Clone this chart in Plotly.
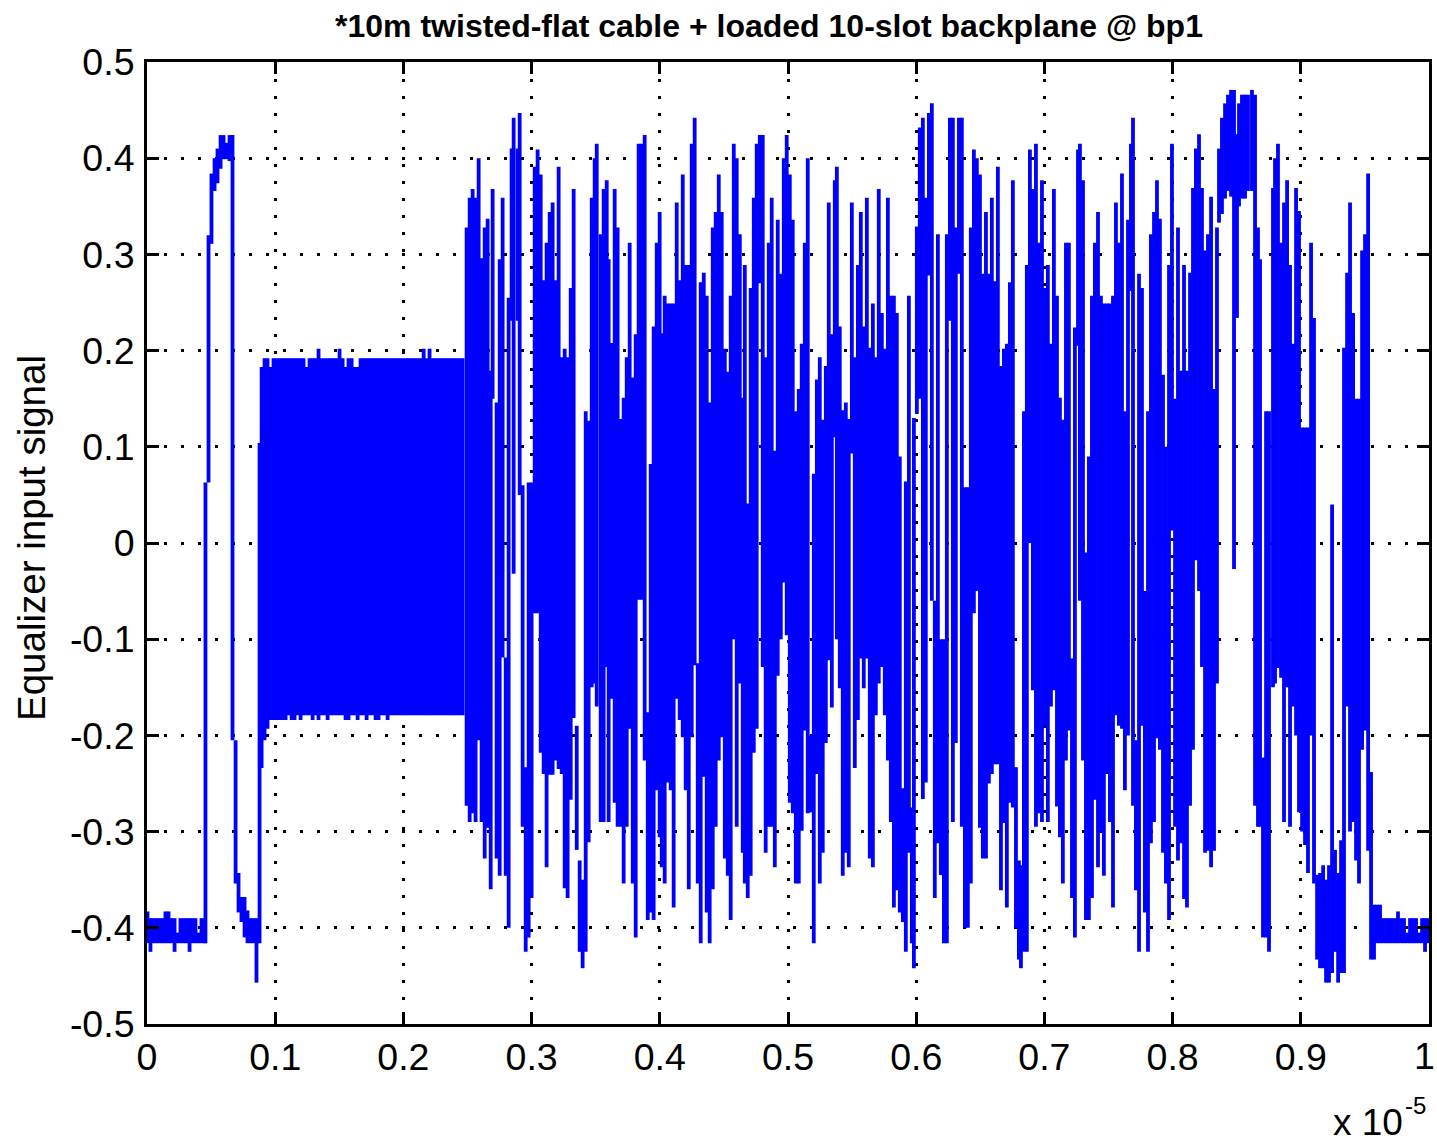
import plotly.graph_objects as go

# Time axis is in units of 1e-5 s. Each column of the trace is a stroke from upper to lower level.
idle_time = [.0004,.0027,.0051,.0074,.0098,.0121,.0144,.0168,.0191,.0215,
             .0238,.0261,.0285,.0308,.0332,.0355,.0378,.0402,.0425,.0449]
idle_upper = [-.383,-.390,-.390,-.390,-.390,-.390,-.383,-.383,-.390,-.390,
              -.405,-.390,-.390,-.390,-.390,-.390,-.390,-.405,-.390,-.390]
idle_lower = [-.416,-.425,-.416,-.416,-.416,-.416,-.416,-.416,-.416,-.425,
              -.416,-.416,-.416,-.416,-.425,-.416,-.416,-.416,-.416,-.416]

pulse_time = [.0456,.0480,.0503,.0527,.0550,.0574,.0597,.0620,.0644,.0667,
              .0691,.0714,.0737,.0761,.0784,.0808,.0831,.0854,.0878]
pulse_upper = [.063,.320,.384,.400,.410,.424,.424,.416,.424,.424,
               -.205,-.343,-.368,-.368,-.382,-.390,-.390,-.390,.104]
pulse_lower = [-.416,.063,.311,.366,.374,.389,.399,.399,.397,-.205,
               -.354,-.384,-.394,-.410,-.416,-.416,-.416,-.457,-.416]

idle_tone_time = [.0894,.0917,.0940,.0964,.0987,.1011,.1034,.1057,.1081,.1104,
                  .1128,.1151,.1175,.1198,.1221,.1245,.1268,.1292,.1315,.1338,
                  .1362,.1385,.1409,.1432,.1455,.1479,.1502,.1526,.1549,.1572,
                  .1596,.1619,.1643,.1666,.1689,.1713,.1736,.1760,.1783,.1806,
                  .1830,.1853,.1877,.1900,.1924,.1947,.1970,.1994,.2017,.2041,
                  .2064,.2087,.2111,.2134,.2158,.2181,.2204,.2228,.2251,.2275,
                  .2298,.2321,.2345,.2368,.2392,.2415,.2438,.2462]
idle_tone_upper = [.183,.192,.192,.183,.192,.192,.192,.192,.192,.192,
                   .192,.192,.192,.192,.192,.183,.192,.192,.192,.202,
                   .192,.192,.192,.192,.192,.192,.202,.192,.183,.192,
                   .192,.183,.183,.192,.192,.192,.192,.192,.192,.192,
                   .192,.192,.192,.192,.192,.192,.192,.192,.192,.192,
                   .192,.192,.192,.192,.202,.192,.202,.192,.192,.192,
                   .192,.192,.192,.192,.192,.192,.192,.192]
idle_tone_lower = [-.234,-.205,-.193,-.184,-.184,-.184,-.184,-.184,-.184,-.179,
                   -.184,-.184,-.179,-.184,-.179,-.179,-.179,-.184,-.179,-.184,
                   -.179,-.179,-.184,-.179,-.179,-.179,-.179,-.179,-.184,-.184,
                   -.179,-.179,-.184,-.179,-.179,-.184,-.179,-.179,-.184,-.184,
                   -.179,-.179,-.184,-.179,-.179,-.179,-.179,-.179,-.179,-.179,
                   -.179,-.179,-.179,-.179,-.179,-.179,-.179,-.179,-.179,-.179,
                   -.179,-.179,-.179,-.179,-.179,-.179,-.179,-.179]

burst_a_time = [.2493,.2517,.2540,.2563,.2587,.2610,.2634,.2657,.2681,.2696,
                .2727,.2751,.2774,.2798,.2821,.2844,.2860,.2891,.2907,.2930,
                .2954,.2977,.3000,.3024,.3047,.3071,.3094,.3117,.3141,.3164,
                .3188,.3211,.3235,.3258,.3281,.3305,.3328,.3352,.3375,.3398,
                .3422,.3445,.3469,.3492,.3508,.3539,.3562,.3586,.3601,.3625,
                .3648,.3671,.3695,.3718,.3742,.3765,.3789,.3812,.3835,.3859,
                .3882,.3906,.3929,.3952,.3976,.3999,.4015,.4038,.4062,.4085,
                .4108,.4132,.4155,.4179,.4202,.4226,.4249,.4272,.4296,.4319,
                .4343,.4366,.4389,.4413,.4436,.4460,.4483,.4507,.4530,.4553,
                .4577,.4600,.4624,.4647,.4663,.4686,.4709,.4733,.4756,.4780,
                .4803,.4826,.4850,.4873,.4897,.4920,.4944,.4967,.4990,.5014,
                .5037,.5061,.5084,.5107,.5131,.5154,.5178,.5201,.5225,.5248]
burst_a_upper = [.328,.359,.368,.359,.400,.296,.328,.337,.179,.368,
                 .146,.295,.359,-.119,.255,.410,.442,.410,.447,.060,
                 -.233,.063,.063,.391,.409,.383,.273,.312,.344,.354,
                 .273,.391,.193,.202,.193,.265,.368,-.190,-.330,-.350,
                 .137,.127,.359,.400,.415,.321,.368,.377,.295,.208,
                 .368,.328,.129,.151,.193,.312,.172,.217,.415,.415,
                 .424,-.176,.082,.225,.312,.344,.218,.257,.249,.249,
                 .249,.354,.273,.383,.289,.289,.415,.442,-.125,.271,
                 .281,.257,.146,.328,.344,.383,.344,.202,.178,.257,
                 .415,.400,.321,.151,.289,.041,.265,.359,.415,.424,
                 .424,.193,.312,.359,.096,.336,.280,.400,.424,.383,
                 .336,.137,.160,.207,.312,.400,-.200,.072,.170,.193]
burst_a_lower = [-.273,-.290,-.281,-.290,-.205,-.290,-.328,-.296,-.360,.150,
                 -.328,-.346,-.119,-.346,-.400,.231,-.032,.231,.050,-.295,
                 -.425,-.410,-.369,-.073,-.073,-.218,-.240,-.337,-.241,-.241,
                 -.226,-.235,-.240,-.359,-.369,-.267,-.182,-.319,-.425,-.442,
                 -.425,-.311,-.150,-.146,-.170,-.290,-.290,-.129,-.290,-.162,
                 -.270,-.295,-.295,-.354,-.295,-.193,-.354,-.410,-.059,-.059,
                 -.226,-.392,-.384,-.392,-.257,-.306,-.337,-.354,-.249,-.257,
                 -.379,-.162,-.184,-.202,-.257,-.360,-.202,-.127,-.354,-.416,
                 -.243,-.384,-.416,-.360,-.295,-.226,-.202,-.328,-.346,-.392,
                 -.100,-.295,-.146,-.322,-.354,-.369,-.346,-.218,-.193,.270,
                 -.129,-.322,-.295,-.295,-.337,-.138,-.100,-.041,-.096,-.270,
                 -.281,-.354,-.354,-.299,-.195,-.281,-.280,-.416,-.240,-.354]

burst_b_time = [.5271,.5295,.5318,.5342,.5365,.5381,.5404,.5427,.5451,.5474,
                .5498,.5521,.5545,.5568,.5591,.5615,.5638,.5662,.5685,.5708,
                .5732,.5755,.5779,.5802,.5826,.5849,.5872,.5896,.5919,.5943,
                .5966,.5982,.6005,.6028,.6052,.6075,.6099,.6122,.6145,.6169,
                .6192,.6216,.6239,.6263,.6286,.6309,.6333,.6356,.6380,.6403,
                .6426,.6450,.6473,.6497,.6520,.6544,.6567,.6590,.6614,.6637,
                .6661,.6684,.6707,.6731,.6754,.6778,.6801,.6817,.6840,.6863,
                .6887,.6910,.6934,.6957,.6981,.7004,.7027,.7051,.7074,.7098,
                .7121,.7144,.7168,.7191,.7215,.7238,.7262,.7277,.7301,.7324,
                .7347,.7371,.7394,.7418,.7441,.7464,.7488,.7511,.7535,.7558,
                .7581,.7605,.7628,.7652,.7675,.7691,.7714,.7738,.7761,.7784]
burst_b_upper = [.128,.184,.354,.217,.377,.391,.225,.138,.146,.129,
                 .354,.193,.289,.344,.225,.359,.203,.249,.193,.368,
                 .239,.202,.359,.257,.257,.239,.090,-.255,.064,.257,
                 -.275,.130,.329,.432,.442,.359,.447,.457,-.060,.321,
                 -.100,-.100,.321,.442,.442,.328,.442,.442,.058,.058,
                 .328,.409,.400,.383,.280,.344,.280,.359,.272,.391,
                 .184,.202,.207,.271,.377,-.233,-.330,-.335,.137,.289,
                 .409,.368,.415,.312,.377,.265,.289,.207,.368,.257,
                 .151,.128,.312,.312,-.120,.224,.409,.415,.377,-.010,
                 .090,.257,.312,.344,.257,.249,.249,.249,.257,.354,
                 .312,.384,.137,.336,.415,.442,-.205,.280,.265,-.050]
burst_b_lower = [-.322,-.208,-.122,-.171,.110,-.100,-.151,-.346,-.322,-.337,
                 .093,-.234,-.184,-.120,-.151,-.120,-.328,-.337,-.179,-.146,
                 -.129,-.179,-.226,-.290,-.379,-.361,-.384,-.394,-.425,-.322,
                 -.416,-.442,.134,.150,-.266,-.249,.278,-.060,-.369,-.312,
                 -.345,-.416,-.416,.231,-.290,-.208,.280,-.295,-.400,-.400,
                 -.354,-.073,-.050,-.296,-.328,-.328,-.250,-.240,-.230,-.230,
                 -.361,-.291,-.379,-.270,-.275,-.400,-.433,-.442,-.425,-.425,
                 .000,-.153,-.295,-.281,-.290,-.190,-.290,-.170,-.153,-.274,
                 -.306,-.354,-.226,-.195,-.369,-.410,.205,-.060,-.226,-.392,
                 -.392,-.369,-.267,-.337,-.300,-.346,-.240,-.290,-.379,-.179,
                 -.190,-.193,-.257,-.200,.262,-.273,-.361,-.425,-.190,-.384]

burst_c_time = [.7808,.7831,.7855,.7878,.7901,.7925,.7948,.7972,.7995,.8019,
                .8042,.8065,.8089,.8112,.8136,.8159,.8182,.8206,.8229,.8253,
                .8276,.8300,.8323,.8346,.8362,.8385,.8409,.8432,.8456,.8479,
                .8502,.8518,.8541,.8565,.8588,.8619,.8643,.8666,.8682,.8705,
                .8729,.8752,.8783,.8799,.8822,.8846,.8869,.8893,.8916,.8939,
                .8963,.8986,.9010,.9033,.9056,.9080,.9103,.9127,.9150,.9174,
                .9197,.9220,.9244,.9267,.9291,.9314,.9337,.9361,.9384,.9408,
                .9431,.9454,.9478,.9501,.9525,.9548,.9571]
burst_c_upper = [.137,.321,.344,.377,.337,.175,.100,.289,.415,.150,
                 .328,.179,.289,.179,.281,.369,.410,.425,.369,.304,
                 .321,.360,.160,.328,.410,.442,.457,.466,.471,.471,
                 .425,.457,.466,.466,.466,.471,.466,.328,.295,-.223,
                 .137,.137,.369,.400,.415,.312,.354,.377,.289,.207,
                 .369,.345,.120,.120,.120,.312,.234,-.345,-.343,-.335,
                 -.350,-.335,.040,-.319,-.343,-.309,.203,.281,.354,.239,
                 .150,.150,.304,.321,.384,-.238,-.376]
burst_c_lower = [-.425,-.312,-.290,-.203,-.215,-.322,-.354,-.392,.013,-.295,
                 -.330,-.312,-.370,-.379,-.273,-.215,-.018,-.050,-.129,-.322,
                 -.320,-.337,-.320,-.146,.333,.342,.358,.366,.360,-.027,
                 .234,.350,.358,.358,.366,.366,-.273,-.295,-.295,-.410,
                 -.410,-.425,-.150,-.146,-.130,-.140,-.290,-.150,-.295,-.170,
                 -.200,-.280,-.300,-.314,-.343,-.200,-.354,-.433,-.442,-.442,
                 -.457,-.457,-.447,-.425,-.457,-.447,-.447,-.170,-.300,-.290,
                 -.330,-.354,-.215,-.195,-.320,-.433,-.433]

tail_time = [.9594,.9618,.9641,.9665,.9688,.9711,.9735,.9758,.9782,.9805,
             .9829,.9852,.9875,.9899,.9922,.9946,.9969,.9992]
tail_upper = [-.376,-.376,-.390,-.390,-.390,-.390,-.390,-.383,-.390,-.390,
              -.405,-.390,-.390,-.390,-.405,-.390,-.390,-.390]
tail_lower = [-.416,-.416,-.416,-.416,-.416,-.416,-.416,-.416,-.416,-.416,
              -.416,-.416,-.416,-.416,-.416,-.416,-.425,-.416]

time_ticks = [0, .1, .2, .3, .4, .5, .6, .7, .8, .9, 1]
time_labels = ["0", "0.1", "0.2", "0.3", "0.4", "0.5", "0.6", "0.7", "0.8", "0.9", "1"]
signal_ticks = [.5, .4, .3, .2, .1, 0, -.1, -.2, -.3, -.4, -.5]
signal_labels = ["0.5", "0.4", "0.3", "0.2", "0.1", "0", "-0.1", "-0.2", "-0.3", "-0.4", "-0.5"]

title_text = "*10m twisted-flat cable + loaded 10-slot backplane @ bp1"
ylabel_text = "Equalizer input signal"

sections = [
    (idle_time, idle_upper, idle_lower),
    (pulse_time, pulse_upper, pulse_lower),
    (idle_tone_time, idle_tone_upper, idle_tone_lower),
    (burst_a_time, burst_a_upper, burst_a_lower),
    (burst_b_time, burst_b_upper, burst_b_lower),
    (burst_c_time, burst_c_upper, burst_c_lower),
    (tail_time, tail_upper, tail_lower),
]

trace_x, trace_y = [], []
for t, hi, lo in sections:
    assert len(t) == len(hi) == len(lo), (len(t), len(hi), len(lo))
    for tv, h, l in zip(t, hi, lo):
        trace_x += [tv, tv, None]
        trace_y += [h, l, None]

FONT = "Liberation Sans"
fig = go.Figure(go.Scatter(x=trace_x, y=trace_y, mode="lines", connectgaps=False,
                           line=dict(color="#0000ff", width=3.8, simplify=False),
                           hoverinfo="skip", showlegend=False))

L, R, T, B = 147, 1429, 62, 1024
axis_common = dict(
    showline=True, linecolor="black", linewidth=3, mirror="allticks",
    ticks="inside", ticklen=12, tickwidth=3, tickcolor="black",
    showgrid=True, gridcolor="black", gridwidth=3, griddash="3px,14px",
    zeroline=False, tickfont=dict(family=FONT, size=37.5, color="black"),
)
fig.update_xaxes(range=[0, 1], tickvals=time_ticks, ticktext=time_labels[:-1] + [""],
                 tickangle=0, ticklabelstandoff=-2, **axis_common)
fig.update_yaxes(range=[-.5, .5], tickvals=signal_ticks, ticktext=signal_labels,
                 ticklabelstandoff=2, **axis_common)
W, H = R - L, B - T
fig.update_layout(
    width=1437, height=1139, autosize=False,
    margin=dict(l=L, r=1437 - R, t=T, b=1139 - B, autoexpand=False),
    paper_bgcolor="white", plot_bgcolor="white",
    title=dict(text=title_text, font=dict(family=FONT, size=32, color="black", weight="bold"),
               x=769/1437, xref="container", xanchor="center",
               y=1-26/1139, yref="container", yanchor="middle"),
    annotations=[
        dict(text=ylabel_text, textangle=-90, x=(31 - L)/W, xref="paper", xanchor="center",
             y=(B - 538)/H, yref="paper", yanchor="middle", showarrow=False,
             font=dict(family=FONT, size=38.5, color="black")),
        dict(text=time_labels[-1], x=(1437 - L)/W, xref="paper", xanchor="right",
             y=(B - 1056)/H, yref="paper", yanchor="middle", showarrow=False,
             font=dict(family=FONT, size=37.5, color="black")),
        dict(text="x 10", x=(1405 - L)/W, xref="paper", xanchor="right",
             y=(B - 1122)/H, yref="paper", yanchor="middle", showarrow=False,
             font=dict(family=FONT, size=37, color="black")),
        dict(text="-5", x=(1428 - L)/W, xref="paper", xanchor="right",
             y=(B - 1105)/H, yref="paper", yanchor="middle", showarrow=False,
             font=dict(family=FONT, size=24, color="black")),
    ],
)

fig.write_html("out.html", config=dict(displayModeBar=False),
               post_script="document.body.style.margin='0';document.documentElement.style.overflow='hidden';")
